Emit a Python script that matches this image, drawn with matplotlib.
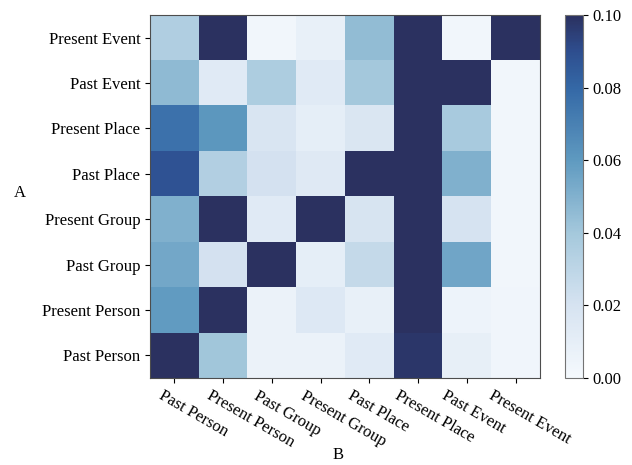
import numpy as np
import matplotlib
matplotlib.use('agg')
from matplotlib import pyplot as plt
from matplotlib.colors import LinearSegmentedColormap
from matplotlib.transforms import ScaledTranslation

plt.rcParams['font.family'] = ['Liberation Serif', 'DejaVu Serif']

labels = ['Past Person', 'Present Person', 'Past Group', 'Present Group',
          'Past Place', 'Present Place', 'Past Event', 'Present Event']

# rows A (bottom -> top), columns B
past_person    = [0.130, 0.041, 0.006, 0.006, 0.013, 0.098, 0.009, 0.003]
present_person = [0.059, 0.120, 0.006, 0.015, 0.008, 0.130, 0.005, 0.003]
past_group     = [0.054, 0.021, 0.120, 0.010, 0.027, 0.130, 0.055, 0.002]
present_group  = [0.050, 0.120, 0.013, 0.120, 0.019, 0.130, 0.020, 0.002]
past_place     = [0.088, 0.034, 0.021, 0.014, 0.120, 0.130, 0.050, 0.002]
present_place  = [0.076, 0.061, 0.018, 0.010, 0.017, 0.130, 0.038, 0.002]
past_event     = [0.046, 0.013, 0.036, 0.013, 0.040, 0.130, 0.120, 0.002]
present_event  = [0.035, 0.120, 0.002, 0.008, 0.045, 0.130, 0.002, 0.120]

data = np.array([past_person, present_person, past_group, present_group,
                 past_place, present_place, past_event, present_event])

cmap = LinearSegmentedColormap.from_list('blu', [
    (0.0, '#f5f9fd'), (0.2, '#d6e3f1'), (0.4, '#a4c8dc'),
    (0.6, '#5f9ac0'), (0.8, '#3468a6'), (0.9, '#2e4e8f'), (1.0, '#2b3160')])

fig = plt.figure(figsize=(6.32, 4.65), dpi=100)
ax = fig.add_axes([150/632, 87/465, 390/632, 363/465])
cax = fig.add_axes([565/632, 87/465, 18/632, 363/465])

im = ax.imshow(data, origin='lower', aspect='auto', cmap=cmap, vmin=0, vmax=0.1,
               interpolation='nearest')
ax.set_xticks(range(len(labels)))
ax.set_yticks(range(len(labels)))
ax.set_xticklabels(labels, rotation=-30, ha='left', rotation_mode='anchor', fontsize=12)
ax.set_yticklabels(labels, fontsize=12)
# labels sit a bit left of their ticks in the original
for i, t in enumerate(ax.get_xticklabels()):
    t.set_transform(t.get_transform() + ScaledTranslation(-(10 + 1.6*i)/100, 0, fig.dpi_scale_trans))

ax.set_xlabel('B', fontsize=12)
ax.xaxis.set_label_coords(0.482, -0.19)
ax.set_ylabel('A', fontsize=12, rotation=0, ha='center', va='center')
ax.yaxis.set_label_coords(-0.333, 0.51)
for s in ax.spines.values():
    s.set_color('0.3')

cb = fig.colorbar(im, cax=cax, ticks=[0, 0.02, 0.04, 0.06, 0.08, 0.1], format='%.2f')
cb.ax.tick_params(labelsize=12)
cb.outline.set_edgecolor('0.45')

fig.savefig('out.png', dpi=100)
